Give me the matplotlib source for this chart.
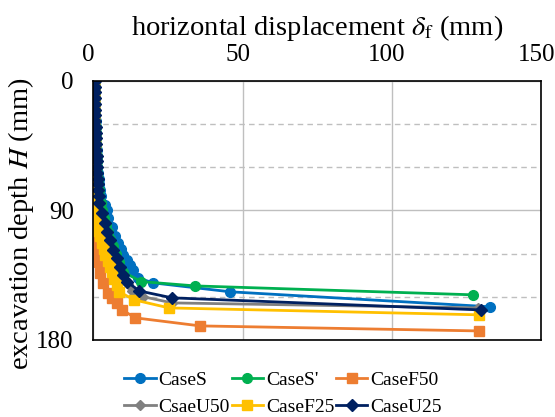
import matplotlib.pyplot as plt
from matplotlib.ticker import MultipleLocator
from matplotlib.transforms import ScaledTranslation

plt.rcParams['font.family'] = ['Liberation Serif', 'DejaVu Serif']
plt.rcParams['mathtext.fontset'] = 'stix'

# depth (mm) and horizontal displacement (mm)
s_depth = [0, 4, 8, 12, 16, 20, 24, 28, 32, 36, 40, 44, 48, 52, 56, 60, 64, 68, 72, 76, 80,
           86, 90, 95, 101.5, 108, 112.6, 117, 121, 124.4, 128, 131.4, 137, 140.4, 146.6, 157]
s_disp = [0.5, 0.5, 0.5, 0.6, 0.6, 0.7, 0.7, 0.8, 0.8, 0.9, 1.0, 1.0, 1.1, 1.2, 1.3, 1.4, 1.6, 1.8, 2.0, 2.3, 2.7,
          4.0, 4.5, 5.0, 6.4, 7.4, 8.4, 9.2, 10.0, 11.4, 12.4, 13.4, 15.1, 20.1, 45.9, 132.9]

sp_depth = [0, 4, 8, 12, 16, 20, 24, 28, 32, 36, 40, 44, 48, 52, 56, 60, 64, 68, 72, 76, 80,
            85, 90, 95, 100, 105, 110, 115, 120, 126, 132.7, 139.5, 142.5, 148.7]
sp_disp = [0.5, 0.5, 0.5, 0.5, 0.6, 0.6, 0.7, 0.7, 0.8, 0.8, 0.9, 1.0, 1.0, 1.1, 1.2, 1.3, 1.4, 1.5, 1.6, 1.8, 2.0,
           2.6, 3.0, 3.6, 4.2, 4.8, 5.6, 6.5, 7.5, 8.6, 10.0, 16.0, 34.1, 127.2]

f50_depth = [0, 4, 8, 12, 16, 20, 24, 28, 32, 36, 40, 44, 48, 52, 56, 60, 64, 68, 72, 76, 80,
             84, 88, 92, 96, 100, 104, 108, 112, 116, 120, 126, 133.4, 140.4, 147.3, 151, 154.3,
             159.2, 164.7, 170.3, 173.8]
f50_disp = [0.1, 0.1, 0.1, 0.1, 0.1, 0.2, 0.2, 0.2, 0.2, 0.2, 0.3, 0.3, 0.3, 0.3, 0.4, 0.4, 0.4, 0.5, 0.5, 0.5, 0.6,
            0.6, 0.7, 0.7, 0.8, 0.9, 1.0, 1.2, 1.3, 1.5, 1.6, 1.9, 2.3, 3.3, 5.0, 6.3, 8.0,
            9.7, 14.1, 35.8, 129.2]

u50_depth = [0, 4, 8, 12, 16, 20, 24, 28, 32, 36, 40, 44, 48, 52, 56, 60, 64, 68, 72, 76, 80,
             85, 92, 99, 105, 111, 117, 123, 129, 135, 141, 146, 150, 154.3, 157.8]
u50_disp = [0.4, 0.4, 0.4, 0.5, 0.5, 0.5, 0.6, 0.6, 0.7, 0.7, 0.8, 0.9, 0.9, 1.0, 1.1, 1.2, 1.3, 1.4, 1.5, 1.6, 1.7,
            1.8, 2.7, 3.6, 4.4, 5.3, 6.3, 7.4, 8.4, 9.6, 11.5, 13.0, 16.7, 26.4, 128.9]

f25_depth = [0, 4, 8, 12, 16, 20, 24, 28, 32, 36, 40, 44, 48, 52, 56, 60, 64, 68, 72, 76, 80,
             84, 88, 92, 96, 100, 104, 108, 112.6, 117, 121, 125, 129.3, 133, 137.6, 142, 146.6,
             152.2, 157.8, 162.6]
f25_disp = [0.2, 0.2, 0.2, 0.3, 0.3, 0.3, 0.3, 0.4, 0.4, 0.4, 0.5, 0.5, 0.5, 0.6, 0.6, 0.7, 0.7, 0.8, 0.8, 0.9, 1.0,
            1.0, 1.1, 1.2, 1.3, 1.5, 1.7, 2.3, 3.0, 3.5, 4.0, 4.8, 5.7, 6.3, 7.0, 7.8, 8.7,
            13.7, 25.4, 129.2]

u25_depth = [0, 4, 8, 12, 16, 20, 24, 28, 32, 36, 40, 44, 48, 52, 56, 60, 64, 68, 72, 76, 80,
             85, 91.7, 98.7, 105, 110.5, 117.5, 123, 129.3, 134.8, 139.7, 146, 150.8, 159.2]
u25_disp = [0.5, 0.5, 0.5, 0.5, 0.6, 0.6, 0.7, 0.7, 0.8, 0.8, 0.9, 1.0, 1.0, 1.1, 1.2, 1.3, 1.4, 1.5, 1.6, 1.7, 1.8,
            2.0, 3.0, 4.0, 4.7, 5.7, 6.7, 8.0, 9.0, 10.0, 11.4, 15.4, 26.4, 129.9]

fig = plt.figure(figsize=(5.55, 4.17), dpi=100)
ax = fig.add_axes([0.168, 0.185, 0.807, 0.621])

lw = 2.0
h_s, = ax.plot(s_disp, s_depth, '-o', color='#0070C0', lw=lw, ms=7, label='CaseS')
h_sp, = ax.plot(sp_disp, sp_depth, '-o', color='#00B050', lw=lw, ms=7, label="CaseS'")
h_f50, = ax.plot(f50_disp, f50_depth, '-s', color='#ED7D31', lw=lw, ms=6.5, label='CaseF50')
h_u50, = ax.plot(u50_disp, u50_depth, '-D', color='#808080', lw=lw, ms=5.5, label='CsaeU50')
h_f25, = ax.plot(f25_disp, f25_depth, '-s', color='#FFC000', lw=lw, ms=6.5, label='CaseF25')
h_u25, = ax.plot(u25_disp, u25_depth, '-D', color='#002060', lw=lw, ms=6, label='CaseU25')

ax.set_xlim(0, 150)
ax.set_ylim(180, 0)
ax.xaxis.set_major_locator(MultipleLocator(50))
ax.yaxis.set_major_locator(MultipleLocator(90))
ax.yaxis.set_minor_locator(MultipleLocator(30))
ax.xaxis.tick_top()
ax.xaxis.set_label_position('top')
ax.tick_params(which='both', length=0, labelsize=18)
ax.tick_params(axis='x', pad=11)
ax.tick_params(axis='y', pad=14)
ax.grid(which='major', color='#BFBFBF', lw=1)
ax.grid(which='minor', axis='y', color='#BFBFBF', lw=1, ls=(0, (4, 3)))
ax.set_axisbelow(True)
for sp in ax.spines.values():
    sp.set_color('black')
    sp.set_linewidth(1.2)

# Excel-like placement: labels sit a bit left of their gridlines
labels = ax.get_xticklabels()
for i, t in enumerate(labels):
    dx = -12 if i == len(labels) - 1 else -5
    t.set_transform(t.get_transform() + ScaledTranslation(dx / 100, 0, fig.dpi_scale_trans))

ax.set_xlabel(r'horizontal displacement $\delta_\mathrm{f}$ (mm)', fontsize=20.5, labelpad=6)
ax.set_ylabel(r'excavation depth $H$ (mm)', fontsize=20.5)
ax.yaxis.set_label_coords(-0.128, 0.45)

handles = [h_s, h_u50, h_sp, h_f25, h_f50, h_u25]
fig.legend(handles=handles, labels=[h.get_label() for h in handles], ncol=3,
           loc='lower center', bbox_to_anchor=(0.51, -0.04), frameon=False, fontsize=14,
           handlelength=1.6, handletextpad=0.15, columnspacing=0.1, labelspacing=0.5)

fig.savefig('out.png', dpi=100)
